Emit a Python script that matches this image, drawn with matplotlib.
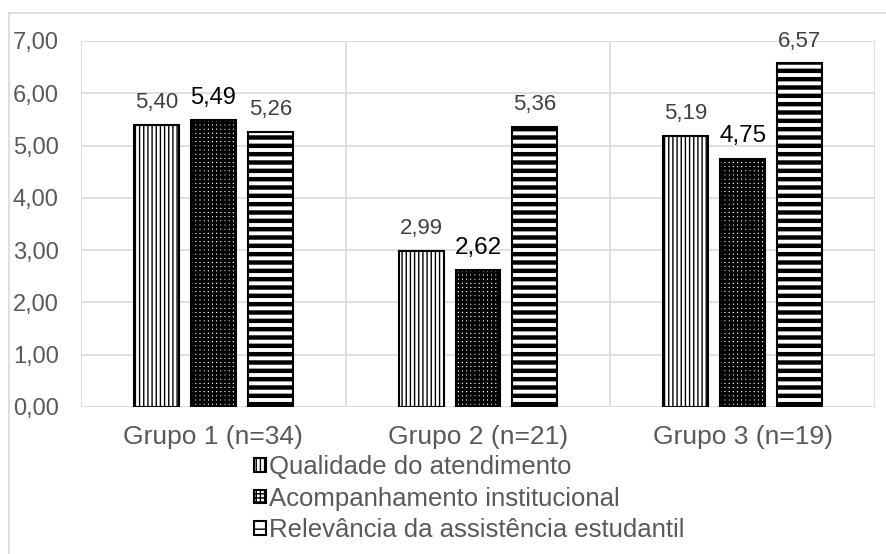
import matplotlib.pyplot as plt
from matplotlib.lines import Line2D
from matplotlib.ticker import FuncFormatter, FixedLocator
import numpy as np

grupos = ['Grupo 1 (n=34)', 'Grupo 2 (n=21)', 'Grupo 3 (n=19)']
series = ['Qualidade do atendimento', 'Acompanhamento institucional',
          'Relevância da assistência estudantil']
qualidade = [5.40, 2.99, 5.19]
acompanhamento = [5.49, 2.62, 4.75]
relevancia = [5.26, 5.36, 6.57]
yticks = [0, 1, 2, 3, 4, 5, 6, 7]

plt.rcParams['font.family'] = ['Liberation Sans', 'DejaVu Sans']

W, H = 887, 554
fig = plt.figure(figsize=(W / 100, H / 100), dpi=100)
ax = fig.add_axes([81 / W, 1 - 407 / H, (875 - 81) / W, (407 - 41) / H])

x = np.arange(len(grupos))
w = 0.17
off = 0.215
hatches = ['||||', '++++', '--']
hatch_lw = [1.0, 2.1, 3.2]
valores = [qualidade, acompanhamento, relevancia]
# value label style per bar: (colour, size)
lab_style = [
    [('#404040', 16), ('#404040', 16), ('#404040', 16)],
    [('black', 17), ('black', 17.5), ('black', 17.5)],
    [('#404040', 16), ('#404040', 16), ('#404040', 16)],
]

for i, vals in enumerate(valores):
    with plt.rc_context({'hatch.linewidth': hatch_lw[i], 'hatch.color': 'black'}):
        bars = ax.bar(x + (i - 1) * off, vals, width=w, color='white',
                      edgecolor='black', linewidth=1.5, hatch=hatches[i],
                      label=series[i], zorder=3)
    for b in bars:
        if hasattr(b, 'set_hatch_linewidth'):
            b.set_hatch_linewidth(hatch_lw[i])
    for j, (b, v) in enumerate(zip(bars, vals)):
        c, s = lab_style[i][j]
        ax.annotate(f'{v:.2f}'.replace('.', ','), (b.get_x() + w / 2, v),
                    xytext=(0, 16), textcoords='offset points',
                    ha='center', va='center', fontsize=s, color=c)

ax.set_xlim(-0.5, 2.5)
ax.set_ylim(0, 7)
ax.set_yticks(yticks)
ax.yaxis.set_major_formatter(FuncFormatter(lambda v, p: f'{v:.2f}'.replace('.', ',')))
ax.set_xticks(x)
ax.set_xticklabels(grupos)
ax.xaxis.set_minor_locator(FixedLocator([-0.5, 0.5, 1.5, 2.5]))
ax.grid(axis='y', which='major', color='#d9d9d9', linewidth=1.2, zorder=0)
ax.grid(axis='x', which='minor', color='#d9d9d9', linewidth=1.2, zorder=0)
ax.tick_params(axis='both', which='both', length=0)
ax.tick_params(axis='y', labelsize=17, labelcolor='#595959', pad=16)
ax.tick_params(axis='x', labelsize=19, labelcolor='#595959', pad=13)
for s in ax.spines.values():
    s.set_visible(False)

leg = fig.legend(loc='upper left', bbox_to_anchor=(254 / W, 1 - 455 / H),
                 frameon=False, fontsize=18.5, handlelength=0.45,
                 handleheight=0.45, handletextpad=0.15, labelspacing=0.3,
                 borderaxespad=0, borderpad=0)
for t in leg.get_texts():
    t.set_color('#595959')

# outer chart border (cropped on the right and bottom)
fig.add_artist(Line2D([9 / W, 9 / W], [0, 1 - 13 / H], transform=fig.transFigure,
                      color='#d9d9d9', linewidth=1.2))
fig.add_artist(Line2D([9 / W, 1], [1 - 13 / H, 1 - 13 / H], transform=fig.transFigure,
                      color='#d9d9d9', linewidth=1.2))

fig.savefig('out.png', dpi=100)
